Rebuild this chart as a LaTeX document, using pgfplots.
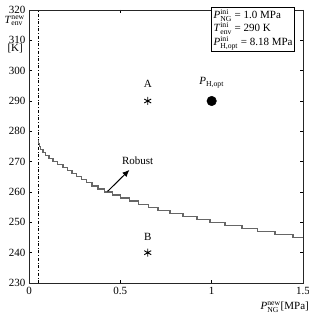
\documentclass[border=0pt]{standalone}
\usepackage{pgfplots}
\pgfplotsset{compat=1.18}
\usetikzlibrary{arrows.meta}
\usepackage{amsmath}
\usepackage{fontspec}
\setmainfont{Liberation Serif}
\begin{document}
\begin{tikzpicture}
\begin{axis}[
  scale only axis,
  width=274pt, height=273pt,
  xmin=0, xmax=1.5, ymin=230, ymax=320,
  xtick={0,0.5,1,1.5}, xticklabels={0,0.5,1,1.5},
  ytick={230,240,...,320},
  tick align=inside,
  major tick length=3pt,
  axis line style={black!85, line width=0.9pt},
  tick style={black, line width=0.6pt},
  tick label style={font=\fontsize{11}{13}\selectfont},
  xticklabel style={yshift=-1pt},
  /pgf/number format/assume math mode=true,
  clip=false,
]
\addplot[black, dash dot, line width=0.6pt] coordinates {(0.05,230) (0.05,320)};
\addplot[const plot, color=black!60, line width=1.2pt] coordinates {
(0.05,277) (0.0517,276) (0.0566,275) (0.065,274) (0.0766,273) (0.0916,272)
(0.1098,271) (0.1314,270) (0.1564,269) (0.186,268) (0.211,267) (0.235,266)
(0.260,265) (0.287,264) (0.315,263) (0.345,262) (0.378,261) (0.415,260)
(0.455,259) (0.500,258) (0.548,257) (0.600,256) (0.655,255) (0.706,254)
(0.772,253) (0.843,252) (0.920,251) (0.991,250) (1.073,249) (1.166,248)
(1.253,247) (1.347,246) (1.445,245) (1.5,245)};
\addplot[only marks, mark=asterisk, mark size=4pt, black, line width=0.9pt] coordinates {(0.65,290) (0.65,240)};
\addplot[only marks, mark=*, mark size=4.8pt, black] coordinates {(1.0,290)};
\node[font=\fontsize{11}{13}\selectfont] at (axis cs:0.65,295.5) {A};
\node[font=\fontsize{11}{13}\selectfont] at (axis cs:0.65,245.2) {B};
\node[font=\fontsize{11}{13}\selectfont] at (axis cs:1.0,296) {\textit{P}$_{\text{H,opt}}$};
\draw[-{Latex[length=7pt,width=6pt]}, black, line width=1pt] (axis cs:0.43,260.2) -- (axis cs:0.55,267.3);
\node[font=\fontsize{11}{13}\selectfont] at (axis cs:0.595,270.3) {Robust};
\node[draw, fill=white, line width=0.9pt, anchor=north east, align=left, inner sep=2pt,
      font=\fontsize{11}{13.5}\selectfont] at (rel axis cs:0.971,1.012)
 {\textit{P}$^{\text{ini}}_{\text{NG}}$ = 1.0 MPa\\
  \textit{T}$^{\text{ini}}_{\text{env}}$ = 290 K\\
  \textit{P}$^{\text{ini}}_{\text{H,opt}}$ = 8.18 MPa};
\node[anchor=east, font=\fontsize{11}{13}\selectfont, inner sep=0pt] at ([xshift=-4pt]axis cs:0,316.5) {\textit{T}$^{\text{new}}_{\text{env}}$};
\node[anchor=east, font=\fontsize{11}{13}\selectfont, inner sep=0pt] at ([xshift=-6pt]axis cs:0,307.3) {[K]};
\node[anchor=north east, font=\fontsize{11}{13}\selectfont, inner sep=0pt] at ([xshift=6pt,yshift=-19pt]rel axis cs:1,0) {\textit{P}$^{\text{new}}_{\text{NG}}$[MPa]};
\end{axis}
\pgfresetboundingbox
\path[use as bounding box] ([xshift=-29pt,yshift=-32pt]current axis.south west) rectangle ([xshift=6pt,yshift=10pt]current axis.north east);
\end{tikzpicture}
\end{document}
